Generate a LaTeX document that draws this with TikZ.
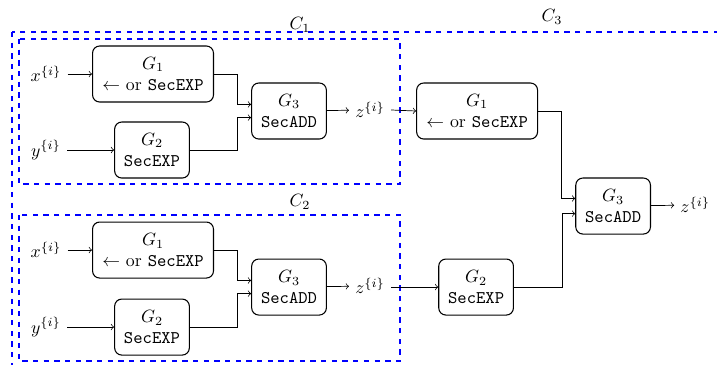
\documentclass[tikz,border=0pt]{standalone}
\usepackage{xcolor}
\usepackage{tikz}
\usepackage{amsmath}
\usetikzlibrary{arrows, positioning}

\begin{document}
\begin{tikzpicture}
      \useasboundingbox (0,0) rectangle (14.17,7.195);
      \begin{scope}[every path/.style={draw=blue,thick,dashed}]
      \path (0.237,6.562) rectangle (14.6,-0.4);
      \path (0.376,6.424) rectangle (7.906,3.558);
      \path (0.376,2.945) rectangle (7.906,0.059);
      \end{scope}
      \node (c3) at (10.91,6.86) {$C_3$};
      \node (c1) at (5.93,6.70) {$C_1$};
      \node (c2) at (5.93,3.20) {$C_2$};
      \begin{scope}[every node/.style={draw,semithick,rounded corners,align=center,minimum height=31.5pt,minimum width=42pt}]
      \node[minimum width=68pt] (ga1) at (3.024,5.732) {$G_1$\\$\leftarrow$ or \texttt{SecEXP}};
      \node (ga2) at (3.004,4.230) {$G_2$\\\texttt{SecEXP}};
      \node (ga3) at (5.712,5.001) {$G_3$\\\texttt{SecADD}};
      \node[minimum width=68pt] (gb1) at (3.024,2.253) {$G_1$\\$\leftarrow$ or \texttt{SecEXP}};
      \node (gb2) at (3.004,0.731) {$G_2$\\\texttt{SecEXP}};
      \node (gb3) at (5.712,1.522) {$G_3$\\\texttt{SecADD}};
      \node[minimum width=68pt] (gc1) at (9.429,5.001) {$G_1$\\$\leftarrow$ or \texttt{SecEXP}};
      \node (gc2) at (9.409,1.522) {$G_2$\\\texttt{SecEXP}};
      \node (gc3) at (12.117,3.123) {$G_3$\\\texttt{SecADD}};
      \end{scope}
      \node (xa) at (0.909,5.732) {$x^{\{i\}}$};
      \node (ya) at (0.909,4.230) {$y^{\{i\}}$};
      \node (za) at (7.313,5.021) {$z^{\{i\}}$};
      \node (xb) at (0.909,2.253) {$x^{\{i\}}$};
      \node (yb) at (0.909,0.731) {$y^{\{i\}}$};
      \node (zb) at (7.313,1.542) {$z^{\{i\}}$};
      \node (zc) at (13.74,3.143) {$z^{\{i\}}$};
      \begin{scope}[every edge/.style={draw=black,->}]
      \path (xa) edge (ga1);
      \path (ya) edge (ga2);
      \path (ga3) edge (za);
      \path (xb) edge (gb1);
      \path (yb) edge (gb2);
      \path (gb3) edge (zb);
      \path (za.east) edge (gc1.west);
      \path (zb.east |- gb3) edge (gc2.west);
      \path (gc3) edge (zc);
      \end{scope}
      \draw[->] (ga1.east) -- ++(0.455,0) |- ([yshift=0.13cm]ga3.west);
      \draw[->] (ga2.east) -- ++(0.93,0) |- ([yshift=-0.13cm]ga3.west);
      \draw[->] (gb1.east) -- ++(0.455,0) |- ([yshift=0.13cm]gb3.west);
      \draw[->] (gb2.east) -- ++(0.93,0) |- ([yshift=-0.13cm]gb3.west);
      \draw[->] (gc1.east) -- ++(0.455,0) |- ([yshift=0.15cm]gc3.west);
      \draw[->] (gc2.east) -- ++(0.95,0) |- ([yshift=-0.15cm]gc3.west);
\end{tikzpicture}
\end{document}
